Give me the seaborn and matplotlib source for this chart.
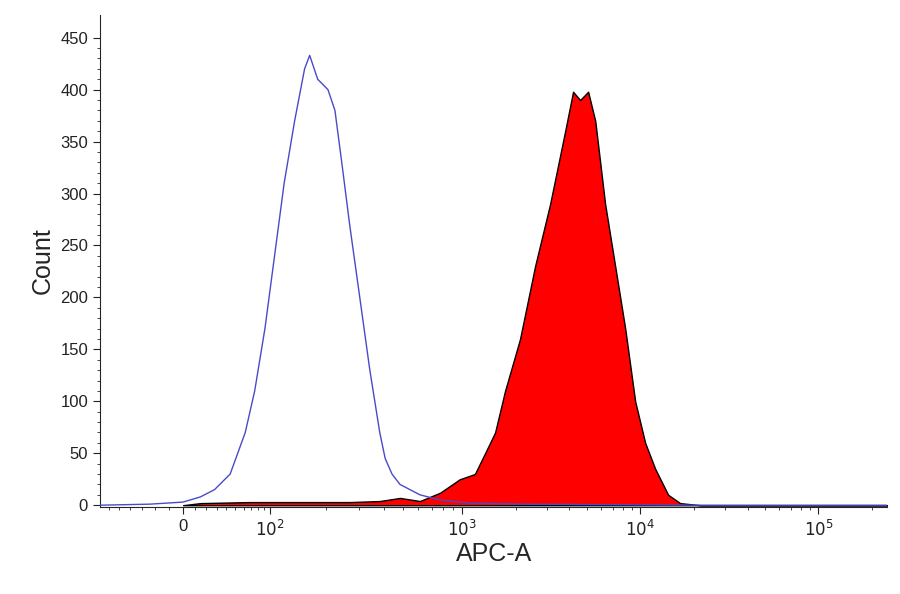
import numpy as np
import matplotlib
matplotlib.use("Agg")
import matplotlib.pyplot as plt
import seaborn as sns
import pandas as pd

sns.set_style("ticks")
plt.rcParams['font.family'] = ['Liberation Sans', 'DejaVu Sans']

blue_x = [-70, -24, 0, 15, 28, 44, 62, 75, 91, 106, 120, 137, 155, 165, 182, 206, 224, 243, 267, 301, 339, 381, 406, 440, 483, 610, 772, 1107, 2111, 21700, 243700]
blue_y = [0, 1, 3, 8, 15, 30, 70, 110, 170, 240, 310, 370, 420, 433, 410, 400, 380, 330, 270, 200, 130, 70, 45, 30, 20, 10, 5, 2, 1, 0, 0]

red_x = [0, 15, 68, 146, 267, 381, 483, 610, 772, 972, 1177, 1343, 1529, 1739, 2111, 2564, 3115, 3782, 4190, 4590, 5090, 5580, 6340, 7220, 8220, 9350, 10640, 12110, 14320, 16720, 21700, 243700]
red_y = [0, 2, 3, 3, 3, 4, 7, 4, 12, 25, 30, 50, 70, 110, 160, 230, 290, 360, 398, 390, 398, 370, 290, 230, 170, 100, 60, 35, 10, 2, 0, 0]

tick_vals = [0, 100, 1000, 10000, 100000]
tick_labels = ['0', '$10^2$', '$10^3$', '$10^4$', '$10^5$']

# display scale: piecewise-linear in asinh space anchored at the decade ticks
C = 54.0
anch_u = np.arcsinh(np.array([-1e4, -1000, 0, 100, 1000, 1e4, 1e5, 1e6]) / C)
anch_p = np.array([-457, -279, 0, 87, 279, 457, 635, 813], float)
fwd = lambda x: np.interp(np.arcsinh(np.asarray(x, float) / C), anch_u, anch_p)
inv = lambda p: C * np.sinh(np.interp(np.asarray(p, float), anch_p, anch_u))

fig = plt.figure(figsize=(9, 5.94), dpi=100)
ax = fig.add_axes([0.111, 0.146, 0.875, 0.829])
ax.set_xscale('function', functions=(fwd, inv))

ax.fill_between(red_x, red_y, color='#ff0000', edgecolor='black', linewidth=1.0, zorder=2)
sns.lineplot(data=pd.DataFrame({'x': blue_x, 'y': blue_y}), x='x', y='y', ax=ax,
             color='#4a4ac8', linewidth=1.0, sort=False, zorder=3)

ax.set_xlim(-70, 243700)
ax.set_ylim(-2, 472)
ax.set_xticks(tick_vals)
ax.set_xticklabels(tick_labels)
minor = [-60, -50, -40, -30, -20, -10, 10, 20, 30, 40, 50, 60, 70, 80, 90]
for d in [100, 1000, 10000, 100000]:
    minor += [d * k for k in range(2, 10)]
ax.set_xticks([m for m in minor if m < 243700], minor=True)
ax.set_yticks(range(0, 451, 50))
ax.set_yticks(range(0, 451, 10), minor=True)
ax.tick_params(axis='both', which='major', labelsize=12, colors='#222222', length=5)
ax.tick_params(axis='both', which='minor', length=2.5)
ax.set_xlabel('APC-A', fontsize=18, labelpad=2)
ax.set_ylabel('Count', fontsize=18)
sns.despine(ax=ax)
fig.savefig('out.png', dpi=100)
